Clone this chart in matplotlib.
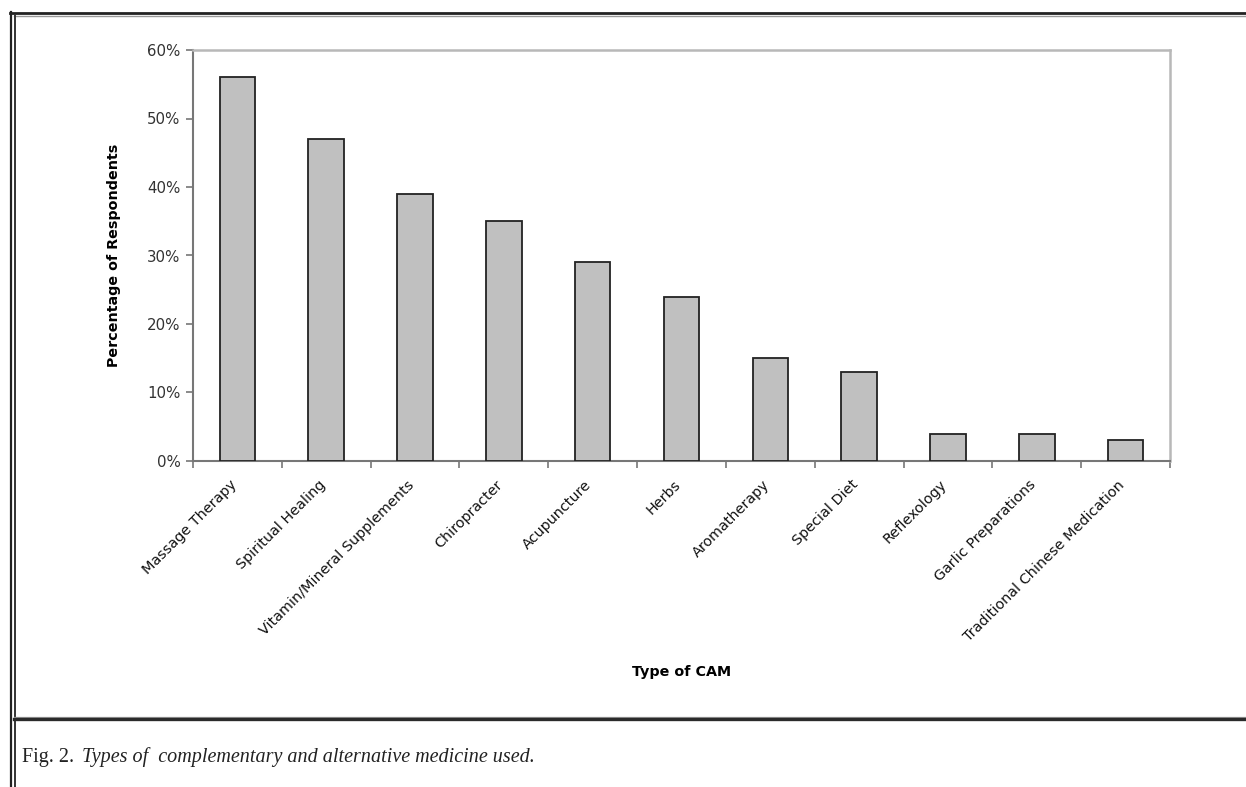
import numpy as np
import matplotlib
matplotlib.use('Agg')
import matplotlib.pyplot as plt
import matplotlib.transforms as mtransforms
from matplotlib.lines import Line2D
from matplotlib.ticker import FuncFormatter

plt.rcParams['font.family'] = ['DejaVu Sans']

# data
cam_types = ['Massage Therapy', 'Spiritual Healing', 'Vitamin/Mineral Supplements',
             'Chiropracter', 'Acupuncture', 'Herbs', 'Aromatherapy', 'Special Diet',
             'Reflexology', 'Garlic Preparations', 'Traditional Chinese Medication']
pct = [56, 47, 39, 35, 29, 24, 15, 13, 4, 4, 3]
yticks = [0, 10, 20, 30, 40, 50, 60]

W, H = 1246, 787
fig = plt.figure(figsize=(W/100, H/100), dpi=100)
ax = fig.add_axes([193/W, 1-461/H, (1170-193)/W, (461-50)/H])

x = np.arange(len(cam_types))
ax.bar(x, pct, width=0.4, color='#c0c0c0', edgecolor='#222222', linewidth=1.3, zorder=3)

ax.set_xlim(-0.5, len(cam_types)-0.5)
ax.set_ylim(0, 60)
ax.set_yticks(yticks)
ax.yaxis.set_major_formatter(FuncFormatter(lambda v, p: '%d%%' % v))
ax.set_xticks(x)
ax.set_xticklabels(cam_types, rotation=45, ha='right', rotation_mode='anchor',
                   fontsize=10.4, color='#111111')
ax.tick_params(axis='x', length=0, pad=12)
shift = mtransforms.ScaledTranslation(-8/100, 0, fig.dpi_scale_trans)
for lab in ax.get_xticklabels():
    lab.set_transform(lab.get_transform() + shift)
ax.set_xticks(np.arange(len(cam_types)+1)-0.5, minor=True)
ax.tick_params(axis='x', which='minor', length=5, color='#777777', width=1.2)
ax.tick_params(axis='y', length=5, color='#777777', width=1.2, labelsize=10.8,
               labelcolor='#333333', pad=4)

for s in ['left', 'bottom']:
    ax.spines[s].set_color('#777777')
    ax.spines[s].set_linewidth(1.5)
for s in ['top', 'right']:
    ax.spines[s].set_color('#b8b8b8')
    ax.spines[s].set_linewidth(1.8)

ax.set_ylabel('Percentage of Respondents', fontsize=10.3, fontweight='bold')
ax.yaxis.set_label_coords(-0.0737, 0.5)
fig.text(682/W, 1-672/H, 'Type of CAM', fontsize=10.3, fontweight='bold',
         ha='center', va='center')

# page frame
def hline(y, x0, x1, lw, c):
    fig.add_artist(Line2D([x0/W, x1/W], [1-y/H, 1-y/H], lw=lw, color=c, transform=fig.transFigure))

def vline(xp, y0, y1, lw, c):
    fig.add_artist(Line2D([xp/W, xp/W], [1-y0/H, 1-y1/H], lw=lw, color=c, transform=fig.transFigure))

hline(12.5, 9.5, W, 2.0, '#222222')
hline(15.5, 14, W, 1.0, '#999999')
vline(10.5, 12, H, 1.6, '#222222')
vline(14.5, 15, H, 1.4, '#333333')
hline(716.5, 14, W, 0.9, '#999999')
hline(719, 14, W, 2.4, '#2a2a2a')

# caption
t1 = fig.text(22/W, 1-762/H, 'Fig. 2.', fontsize=14.5, family='Liberation Serif',
              va='baseline', color='#222222')
r = fig.canvas.get_renderer()
bb = t1.get_window_extent(renderer=r)
fig.text((bb.x1 + 8)/W, 1-762/H, 'Types of  complementary and alternative medicine used.',
         fontsize=14.5, family='Liberation Serif', style='italic', va='baseline', color='#222222')

fig.savefig('out.png', dpi=100)
